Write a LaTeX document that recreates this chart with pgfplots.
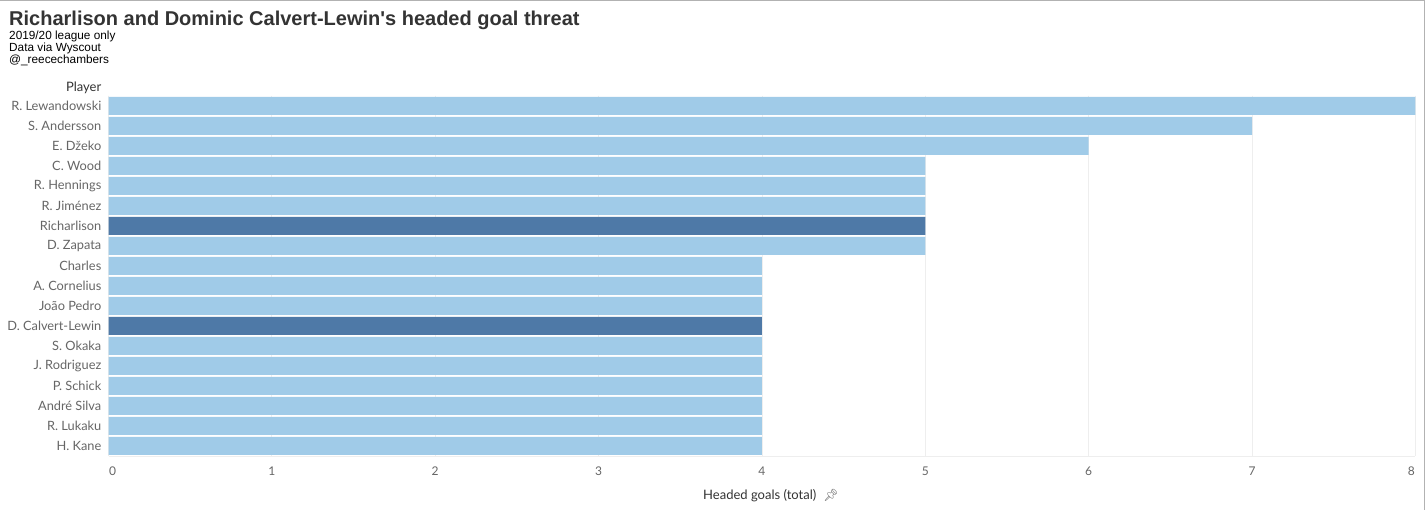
\documentclass[border=0pt]{standalone}
\usepackage{pgfplots}
\pgfplotsset{compat=1.18}
\usepackage{fontspec}
\setmainfont{Lato}
\newfontfamily\titlefont{Liberation Sans}
\newfontfamily\emojifont{Noto Emoji}
\definecolor{lightbar}{HTML}{A0CBE8}
\definecolor{darkbar}{HTML}{4E79A7}
\definecolor{ticktext}{HTML}{666666}
\definecolor{labtext}{HTML}{333333}
\definecolor{gridc}{HTML}{EEEEEE}
\begin{document}
\begin{tikzpicture}[x=1pt,y=1pt]
\path[use as bounding box] (0,0) rectangle (1425,510);
\fill[white] (0,0) rectangle (1425,510);
\begin{axis}[
  at={(108.5pt,54pt)}, anchor=south west,
  scale only axis, width=1307pt, height=360pt,
  xbar, bar width=18pt, bar shift=0pt,
  xmin=0, xmax=8, ymin=-0.5, ymax=17.5, y dir=reverse,
  xtick={0,...,8}, ytick={0,...,17},
  yticklabels={R. Lewandowski,S. Andersson,E. Džeko,C. Wood,R. Hennings,R. Jiménez,Richarlison,D. Zapata,Charles,A. Cornelius,João Pedro,D. Calvert-Lewin,S. Okaka,J. Rodriguez,P. Schick,André Silva,R. Lukaku,H. Kane},
  xticklabel={\ifnum\ticknum=0\hspace*{8pt}\fi\pgfmathprintnumber{\tick}\ifnum\ticknum=8\hspace*{8pt}\fi},
  major tick length=0pt,
  xmajorgrids, grid style={draw=gridc, line width=0.8pt},
  axis x line*=bottom, axis y line*=left,
  axis line style={draw=gridc, line width=0.8pt, -},
  yticklabel style={anchor=east, inner sep=0pt, xshift=-7pt, font=\fontsize{12.8}{14}\selectfont, text=ticktext},
  xticklabel style={anchor=north, inner sep=0pt, yshift=-11pt, font=\fontsize{12}{14}\selectfont, text=ticktext},
  /pgf/number format/assume math mode=true,
]
\addplot[draw=none, fill=lightbar] coordinates {
(8,0) (7,1) (6,2) (5,3) (5,4) (5,5) (5,7) (4,8) (4,9) (4,10) (4,12) (4,13) (4,14) (4,15) (4,16) (4,17)};
\addplot[draw=none, fill=darkbar] coordinates {(5,6) (4,11)};
\end{axis}
\node[anchor=base west, inner sep=0pt, text=labtext, font=\titlefont\bfseries\fontsize{20}{22}\selectfont] at (9,484) {Richarlison and Dominic Calvert-Lewin's headed goal threat};
\node[anchor=base west, inner sep=0pt, text=black, font=\titlefont\fontsize{11.8}{12}\selectfont, align=left] at (9,470) {2019/20 league only};
\node[anchor=base west, inner sep=0pt, text=black, font=\titlefont\fontsize{11.8}{12}\selectfont, align=left] at (9,458) {Data via Wyscout};
\node[anchor=base west, inner sep=0pt, text=black, font=\titlefont\fontsize{11.8}{12}\selectfont, align=left] at (9,446) {@\_reecechambers};
\node[anchor=base east, inner sep=0pt, text=labtext, font=\fontsize{13}{14}\selectfont] at (101.5,418) {Player};
\node[anchor=base west, inner sep=0pt, text=labtext, font=\fontsize{13}{14}\selectfont] at (703,10) {Headed goals (total)\hspace{7pt}{\emojifont\textcolor{ticktext}{\fontsize{12}{12}\selectfont 📌}}};
\draw[color=gray!60, line width=1.5pt] (0,510) -- (1425,510);
\draw[color=gray!60, line width=1.5pt] (1425,510) -- (1425,0);
\end{tikzpicture}
\end{document}
